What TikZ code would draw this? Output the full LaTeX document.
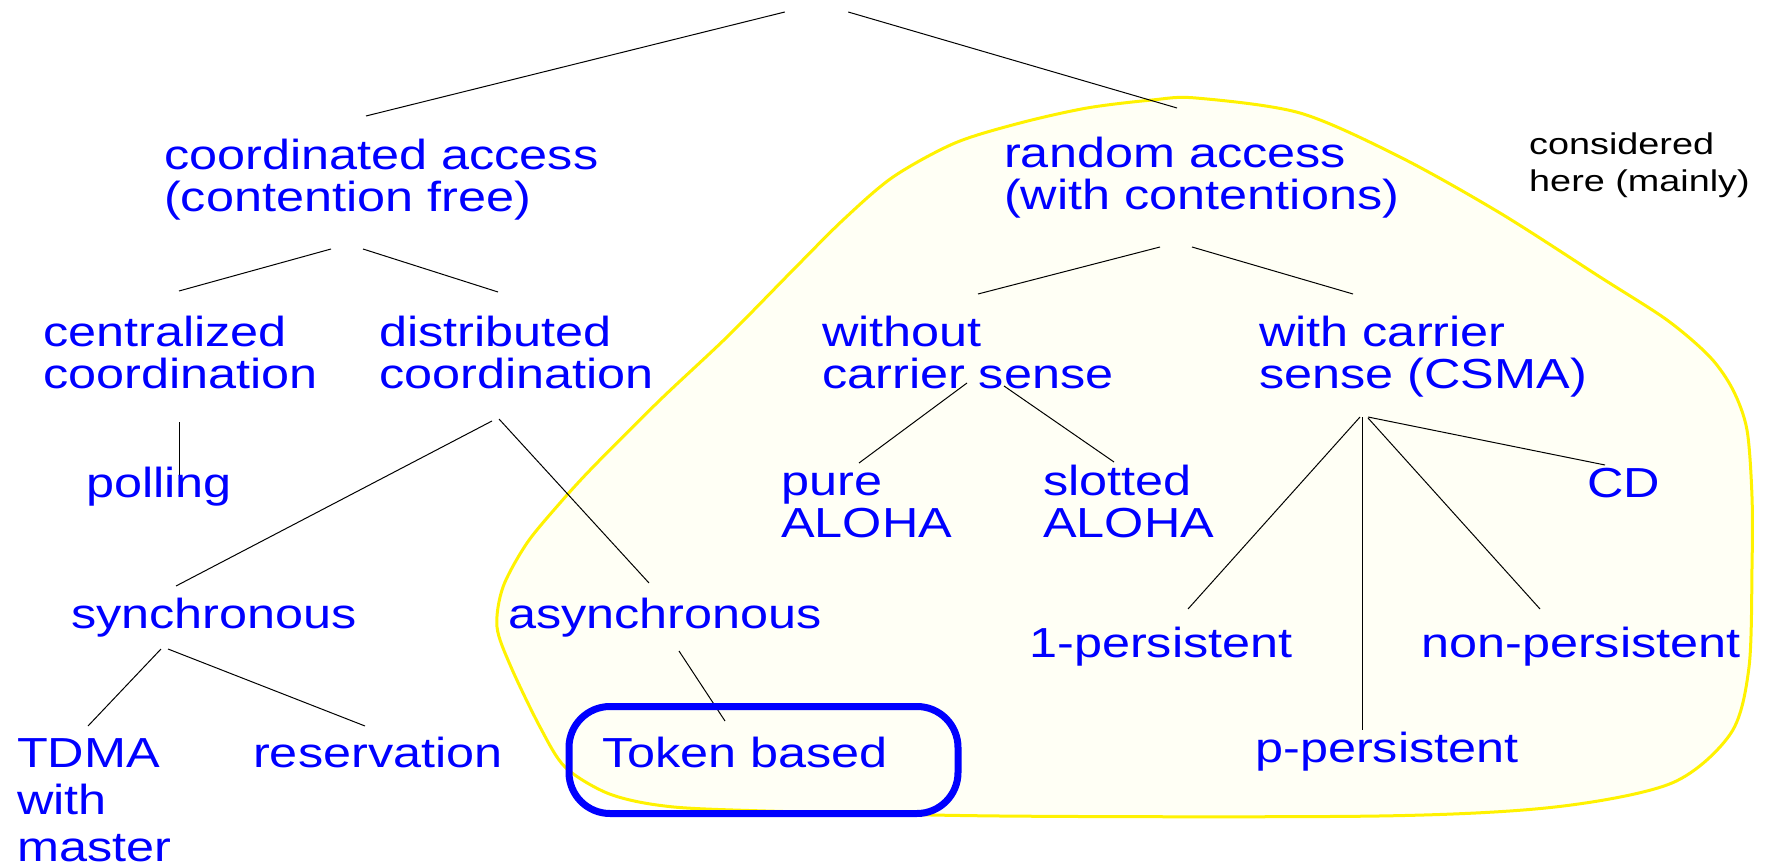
\documentclass[tikz,border=0pt]{standalone}
\usepackage{fontspec}
\usetikzlibrary{calc}
\newfontfamily\catfam{Liberation Sans}[FakeStretch=1.2]
\newfontfamily\notefam{Liberation Sans}[FakeStretch=1.26]
\newcommand\catfont{\catfam\fontsize{42}{42}\selectfont}
\newcommand\notefont{\notefam\fontsize{30}{37}\selectfont}
\definecolor{paleyellow}{RGB}{255,255,245}
\tikzset{
  cat/.style={text=blue,font=\catfont,anchor=base west,inner sep=0pt,align=left},
  note/.style={text=black,font=\notefont,anchor=base west,inner sep=0pt,align=left},
  link/.style={draw=black,line width=1pt},
  chosen/.style={draw=blue,line width=7pt,rounded corners=41pt},
  region/.style={draw=yellow,fill=paleyellow,line width=3pt}
}

\begin{document}
\begin{tikzpicture}[x=1pt,y=-1pt]
  \useasboundingbox (0,0) rectangle (1771,866);
  % area that is considered here
  \draw[region] plot[smooth cycle,tension=0.5] coordinates {
    (1196,98) (1300,113) (1400,157) (1500,213) (1600,277) (1667,320)
    (1710,357) (1733,390) (1747,430) (1752,497) (1752,567) (1749,667)
    (1731,733) (1672,783) (1555,807) (1379,816) (1000,816) (733,810)
    (657,805) (607,793) (565,767) (540,727) (511,667) (497,627)
    (503,587) (527,543) (560,503) (593,467) (660,400) (727,337)
    (793,270) (843,220) (893,177) (955,143) (1020,123) (1087,108)
    (1152,100)};

  % multi-line labels are placed by the baseline of their last line
  \node[inner sep=0pt,minimum width=63pt] (top) at (816.5,12) {};
  \node[cat] (coord) at (164,212) {coordinated access\\(contention free)};
  \node[cat] (random) at (1004,210) {random access\\(with contentions)};
  \node[note] (here) at (1529,192) {considered\\here (mainly)};
  \node[cat] (central) at (43,388) {centralized\\coordination};
  \node[cat] (distrib) at (379,388) {distributed\\coordination};
  \node[cat] (without) at (822,388) {without\\carrier sense};
  \node[cat] (csma) at (1259,388) {with carrier\\sense (CSMA)};
  \node[cat] (polling) at (86,497) {polling};
  \node[cat] (pure) at (781,537) {pure\\ALOHA};
  \node[cat] (slotted) at (1043,537) {slotted\\ALOHA};
  \node[cat] (cd) at (1587,497) {CD};
  \node[cat] (sync) at (71,628) {synchronous};
  \node[cat] (async) at (508,628) {asynchronous};
  \node[cat] (onep) at (1029,657) {1-persistent};
  \node[cat] (nonp) at (1421,657) {non-persistent};
  \node[cat] (pp) at (1255,762) {p-persistent};
  \node[cat,font=\catfam\fontsize{42}{47}\selectfont] (tdma) at (17,861) {TDMA\\with\\master};
  \node[cat] (resv) at (253,767) {reservation};
  \node[cat] (token) at (602,767) {Token based};

  \draw[link] (top.west) -- ($(coord.base west)+(202,-96)$);
  \draw[link] (top.east) -- ($(random.base west)+(173,-102)$);
  \draw[link] ($(coord.base west)+(167,37)$) -- ($(central.base west)+(136,-97)$);
  \draw[link] ($(coord.base west)+(199,37)$) -- ($(distrib.base west)+(119,-96)$);
  \draw[link] ($(random.base west)+(156,37)$) -- ($(without.base west)+(156,-94)$);
  \draw[link] ($(random.base west)+(188,37)$) -- ($(csma.base west)+(94,-94)$);
  \draw[link] ($(central.base west)+(136,34)$) -- ($(polling.base west)+(93,-22)$);
  \draw[link] ($(distrib.base west)+(113,33)$) -- ($(sync.base west)+(105,-42)$);
  \draw[link] ($(distrib.base west)+(120,31)$) -- ($(async.base west)+(141,-45)$);
  \draw[link] ($(without.base west)+(145,-5)$) -- ($(pure.base west)+(78,-74)$);
  \draw[link] ($(without.base west)+(182,-2)$) -- ($(slotted.base west)+(71,-75)$);
  \draw[link] ($(csma.base west)+(101,29)$) -- ($(onep.base west)+(159,-48)$);
  \draw[link] ($(csma.base west)+(103,29)$) -- ($(pp.base west)+(107,-32)$);
  \draw[link] ($(csma.base west)+(109,30)$) -- ($(nonp.base west)+(119,-48)$);
  \draw[link] ($(csma.base west)+(109,29)$) -- ($(cd.base west)+(18,-32)$);
  \draw[link] ($(sync.base west)+(90,21)$) -- ($(tdma.base west)+(71,-135)$);
  \draw[link] ($(sync.base west)+(97,21)$) -- ($(resv.base west)+(112,-41)$);
  \draw[link] ($(async.base west)+(171,23)$) -- ($(token.base west)+(123,-46)$);

  % highlighted leaf
  \draw[chosen] (569,706.5) rectangle (958,813.5);
\end{tikzpicture}
\end{document}
